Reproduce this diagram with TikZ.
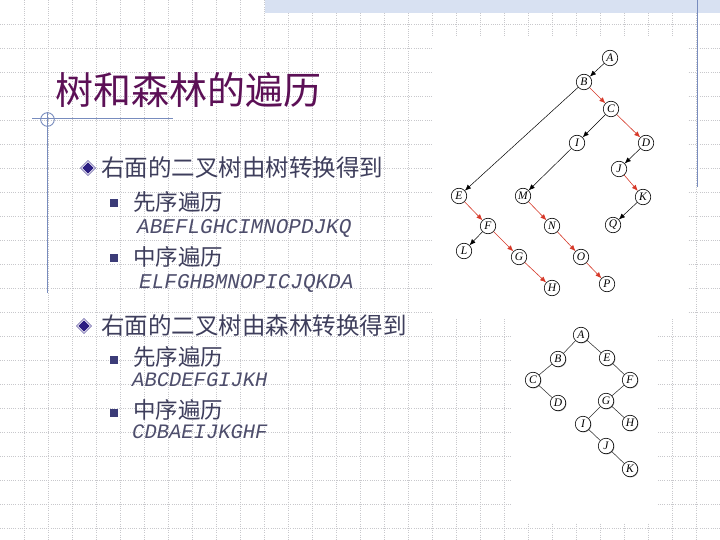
\documentclass[tikz,border=0pt]{standalone}
\usepackage{fontspec}
\setmainfont{Liberation Serif}
\newfontfamily\cjk{Noto Sans CJK SC}
\newfontfamily\lmono{Liberation Mono}
\usetikzlibrary{arrows.meta,shadows,calc}
\definecolor{gridc}{RGB}{200,200,204}
\definecolor{linec}{RGB}{120,140,190}
\definecolor{bandc}{RGB}{216,225,242}
\definecolor{titlec}{RGB}{92,16,86}
\definecolor{textc}{RGB}{62,62,92}
\definecolor{seqc}{RGB}{78,78,108}
\definecolor{bulc}{RGB}{44,30,130}
\definecolor{sqc}{RGB}{60,60,120}
\definecolor{redc}{RGB}{214,56,40}
\begin{document}
\begin{tikzpicture}[x=1pt,y=-1pt,
  gridline/.style={gridc,line width=0.6pt,dash pattern=on 1pt off 1.2pt},
  tn/.style={circle,draw,fill=white,line width=0.6pt,minimum size=15.5pt,inner sep=0pt,font=\fontsize{11.5}{11.5}\selectfont\itshape},
  tnb/.style={tn,drop shadow={shadow xshift=0.7pt,shadow yshift=-0.7pt,fill=gray!70,opacity=1}},
  bk/.style={-{Latex[length=6pt,width=5pt]},line width=0.5pt,black},
  rd/.style={-{Latex[length=6pt,width=5pt]},line width=0.6pt,redc},
  pl/.style={line width=0.55pt,black!80},
  hd/.style={anchor=west,inner sep=0pt,text=textc,font=\cjk\fontsize{23.5}{24}\selectfont},
  sub/.style={anchor=west,inner sep=0pt,text=textc,font=\cjk\fontsize{22.5}{23}\selectfont},
  seq/.style={anchor=west,inner sep=0pt,text=seqc,font=\lmono\itshape\fontsize{21}{22}\selectfont},
  seqb/.style={anchor=west,inner sep=0pt,text=seqc,font=\lmono\itshape\fontsize{20.5}{22}\selectfont},
  sqbul/.style={fill=sqc,minimum size=8pt,inner sep=0pt}
]
\useasboundingbox (0,0) rectangle (720,540);
\fill[white] (0,0) rectangle (720,540);
% grid
\foreach \x in {24,48,...,696} \draw[gridline] (\x,0) -- (\x,540);
\foreach \y in {24,48,...,528} \draw[gridline] (0,\y) -- (720,\y);
% top band and right line
\fill[bandc] (265,0) rectangle (720,13);
\draw[linec,line width=1pt] (697,0) -- (697,187);
% white picture areas
\fill[white] (432,36) rectangle (688,318);
\fill[white] (512,318) rectangle (658,522);
% title decoration
\draw[linec,line width=1pt] (32,119) -- (173,119);
\draw[linec,line width=0.9pt] (47.5,119.5) circle (6.8);
\draw[linec,line width=1pt] (47.5,112) -- (47.5,293);
% title
\node[anchor=west,inner sep=0pt,text=titlec,font=\cjk\fontsize{38}{38}\selectfont] (title) at (55,90) {树和森林的遍历};
% bullets
\foreach \p/\n in {{(88,168)}/d1,{(84,326)}/d2}{
  \path \p coordinate (\n);
  \fill[white,draw=bulc!80,line width=0.7pt] ($(\n)+(-7.5,0)$) -- ($(\n)+(0,-7.5)$) -- ($(\n)+(7.5,0)$) -- ($(\n)+(0,7.5)$) -- cycle;
  \fill[bulc] ($(\n)+(-5.6,0)$) -- ($(\n)+(0,-5.6)$) -- ($(\n)+(5.6,0)$) -- ($(\n)+(0,5.6)$) -- cycle;
}
\node[sqbul] (b1) at (114,203) {};
\node[sqbul] (b2) at (114,258) {};
\node[sqbul] (b3) at (114,360) {};
\node[sqbul] (b4) at (114,413) {};
% texts
\node[hd] (h1) at (101,168) {右面的二叉树由树转换得到};
\node[sub] (s1) at (133,202) {先序遍历};
\node[seq] (q1) at (137,228) {ABEFLGHCIMNOPDJKQ};
\node[sub] (s2) at (133,257) {中序遍历};
\node[seq] (q2) at (139,283) {ELFGHBMNOPICJQKDA};
\node[hd] (h2) at (101,326) {右面的二叉树由森林转换得到};
\node[sub] (s3) at (133,357) {先序遍历};
\node[seqb] (q3) at (132,380) {ABCDEFGIJKH};
\node[sub] (s4) at (133,410) {中序遍历};
\node[seqb] (q4) at (132,432) {CDBAEIJKGHF};
% tree 1
\node[tn] (A) at (610,58) {A};
\node[tn] (B) at (584,82) {B};
\node[tn] (C) at (611,109) {C};
\node[tn] (I) at (577,143) {I};
\node[tn] (D) at (646,143) {D};
\node[tn] (J) at (619,169) {J};
\node[tn] (K) at (643,197) {K};
\node[tn] (Q) at (613,225) {Q};
\node[tn] (E) at (459,196) {E};
\node[tn] (M) at (523,196) {M};
\node[tn] (F) at (488,226) {F};
\node[tn] (N) at (552,226) {N};
\node[tn] (L) at (464,251) {L};
\node[tn] (G) at (519,257) {G};
\node[tn] (O) at (581,257) {O};
\node[tn] (H) at (552,288) {H};
\node[tn] (P) at (607,284) {P};
\draw[bk] (A) -- (B);
\draw[rd] (B) -- (C);
\draw[bk] (B) -- (E);
\draw[bk] (C) -- (I);
\draw[rd] (C) -- (D);
\draw[bk] (I) -- (M);
\draw[bk] (D) -- (J);
\draw[rd] (J) -- (K);
\draw[bk] (K) -- (Q);
\draw[rd] (E) -- (F);
\draw[bk] (F) -- (L);
\draw[rd] (F) -- (G);
\draw[rd] (G) -- (H);
\draw[rd] (M) -- (N);
\draw[rd] (N) -- (O);
\draw[rd] (O) -- (P);
% tree 2
\node[tnb] (a2) at (581,335) {A};
\node[tnb] (b2n) at (558,359) {B};
\node[tnb] (e2) at (607,358) {E};
\node[tnb] (c2) at (533,380) {C};
\node[tnb] (f2) at (630,380) {F};
\node[tnb] (d2n) at (558,403) {D};
\node[tnb] (g2) at (606,401) {G};
\node[tnb] (i2) at (583,424) {I};
\node[tnb] (h2n) at (630,423) {H};
\node[tnb] (j2) at (606,446) {J};
\node[tnb] (k2) at (630,469) {K};
\draw[pl] (a2) -- (b2n);
\draw[pl] (a2) -- (e2);
\draw[pl] (b2n) -- (c2);
\draw[pl] (c2) -- (d2n);
\draw[pl] (e2) -- (f2);
\draw[pl] (f2) -- (g2);
\draw[pl] (g2) -- (i2);
\draw[pl] (g2) -- (h2n);
\draw[pl] (i2) -- (j2);
\draw[pl] (j2) -- (k2);
\end{tikzpicture}
\end{document}
